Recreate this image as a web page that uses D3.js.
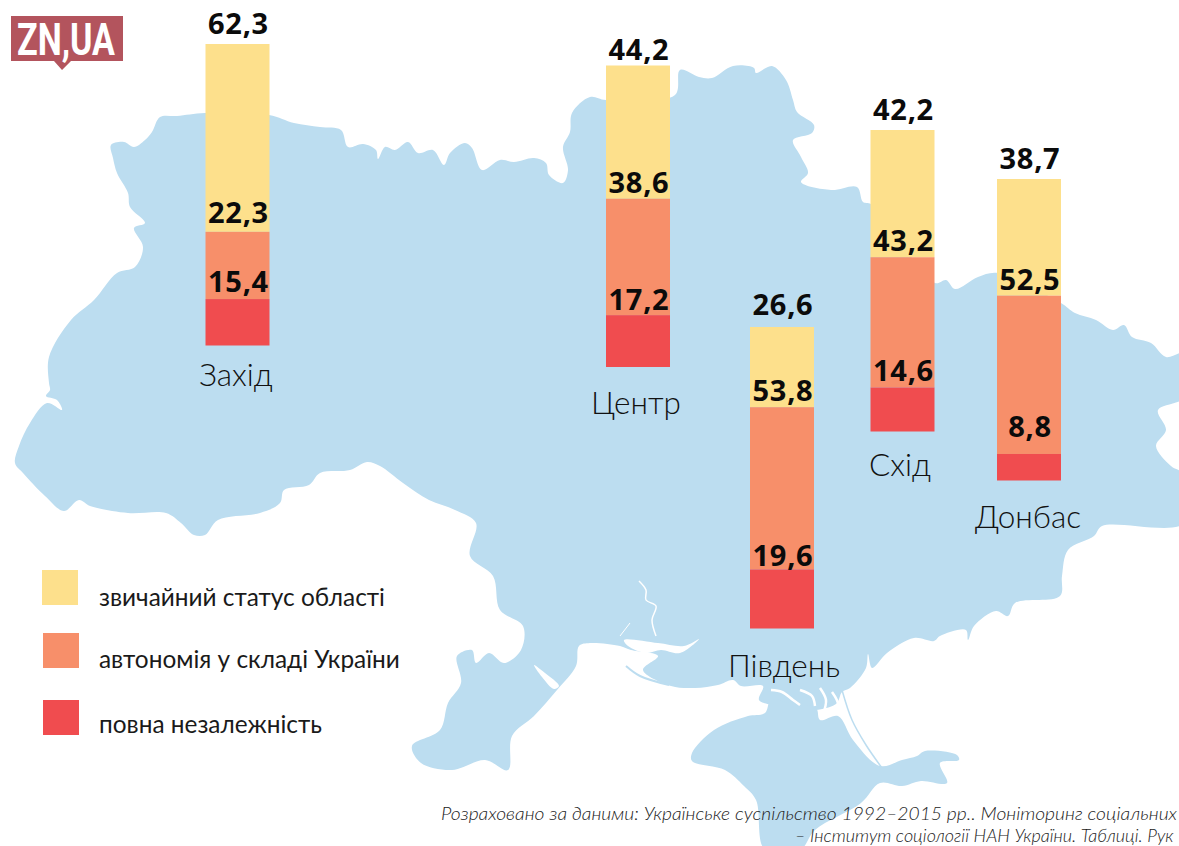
<!DOCTYPE html>
<html>
<head>
<meta charset="utf-8">
<script src="https://cdnjs.cloudflare.com/ajax/libs/d3/7.8.5/d3.min.js"></script>
<style>
  html, body { margin: 0; padding: 0; background: #fff; overflow: hidden; }
  svg { display: block; }
</style>
</head>
<body>
<div class="g-chart-container"></div>
<script>
// values
var regions = ["Захід", "Центр", "Південь", "Схід", "Донбас"];
var ordinaryStatus = [62.3, 44.2, 26.6, 42.2, 38.7];
var autonomy = [22.3, 38.6, 53.8, 43.2, 52.5];
var independence = [15.4, 17.2, 19.6, 14.6, 8.8];
var seriesNames = ["звичайний статус області", "автономія у складі України", "повна незалежність"];
var sourceLines = [
  "Розраховано за даними: Українське суспільство 1992–2015 рр.. Моніторинг соціальних",
  "– Інститут соціології НАН України. Таблиці. Рук"
];

// layout
var width = 1179;
var height = 846;
var colors = ["#fde08c", "#f78f6a", "#f04c4f"];
var mapColor = "#bcddf0";
var barWidth = 64;
var barLeft = [205.5, 606, 750, 870.5, 997];
var barBottom = [345.5, 367, 628.5, 431.5, 480.5];
var nameX = [236, 636, 784, 900, 1028];
var nameY = [386, 414, 677, 476, 528];
var legendX = [42, 43, 43];
var legendY = [570, 633, 700];
var legendTextY = [606, 668, 733];
// distance from a segment's top edge to the baseline of its label, per series then region
var labelGap = [
  [10, 6, 12, 10, 10],
  [9, 6, 6, 6, 6],
  [7, 5, 3, 6, 17]
];

// outline
var mainland = [[111,145],[124,142],[134,147],[145,140],[152,132],[160,117],[177,116],[205,113],[269,115],[294,123],[320,127],[341,130],[348,147],[363,144],[376,150],[378,159],[385,147],[395,150],[408,142],[418,153],[433,150],[444,165],[450,153],[465,143],[472,148],[482,170],[500,160],[514,162],[534,158],[546,163],[549,175],[563,183],[568,170],[563,147],[570,132],[572,113],[590,97],[606,100],[675,95],[680,70],[699,77],[712,78],[733,66],[754,68],[756,73],[772,66],[786,80],[793,100],[797,112],[814,125],[812,133],[793,140],[801,157],[808,173],[801,182],[831,190],[857,187],[863,202],[871,204],[935,283],[946,280],[955,289],[978,277],[998,273],[1061,303],[1075,313],[1096,320],[1113,330],[1124,325],[1132,337],[1151,343],[1166,357],[1185,353],[1185,397],[1158,410],[1166,430],[1156,446],[1171,466],[1185,475],[1185,523],[1102,526],[1094,536],[1068,550],[1062,576],[1060,596],[1015,603],[1008,616],[996,611],[974,626],[968,640],[966,630],[940,636],[934,641],[914,638],[887,653],[872,668],[868,654],[866,668],[850,688],[842,692],[836,704],[800,712],[771,712],[771,706],[759,700],[763,686],[741,686],[733,680],[718,685],[695,688],[671,686],[643,670],[658,656],[631,650],[620,646],[590,643],[579,646],[576,666],[557,690],[534,716],[512,736],[508,770],[485,760],[452,770],[421,763],[412,746],[440,730],[448,703],[461,683],[457,656],[472,650],[476,663],[489,653],[504,663],[521,650],[523,626],[500,610],[493,576],[470,556],[476,523],[455,510],[429,500],[403,483],[380,466],[367,462],[350,470],[320,473],[309,485],[284,490],[280,503],[260,513],[218,520],[205,535],[194,535],[181,523],[166,513],[128,513],[90,506],[79,500],[64,511],[45,496],[23,473],[15,463],[19,446],[30,423],[47,403],[62,410],[57,400],[46,396],[50,390],[49,383],[49,357],[71,320],[94,300],[117,273],[135,267],[143,247],[134,228],[145,223],[130,207],[128,193],[117,173],[113,158]];
var crimea = [[771,700],[793,704],[816,708],[820,720],[838,716],[853,740],[880,766],[902,760],[917,756],[925,751],[957,755],[959,760],[940,763],[947,783],[921,781],[902,786],[880,783],[861,803],[815,830],[800,850],[765,850],[756,800],[744,786],[725,770],[692,761],[692,753],[714,730],[748,716],[765,713]];
var estuary = [[624,640],[658,643],[684,646],[699,639],[680,653],[661,650],[646,653],[628,646]];
var dniester = [[534,665],[545,673],[559,686],[554,689],[542,677]];
var bugRiver = [[639,581],[646,590],[646,600],[656,606],[652,620],[656,636]];
var bugFork = [[620,636],[630,623]];
var kinburn = [[626,666],[640,676],[669,685]];
var arabat = [[842,690],[852,720],[866,745],[882,768]];
var sivashFlecks = [
  [[771,690],[782,692],[793,700],[800,705]],
  [[800,690],[812,696],[815,706]],
  [[820,688],[826,700],[823,714]],
  [[832,692],[838,705],[830,714]]
];

var svg = d3.select(".g-chart-container")
  .append("svg")
  .attr("width", width)
  .attr("height", height);

var outline = d3.line().curve(d3.curveCatmullRomClosed.alpha(0.5));
var openLine = d3.line().curve(d3.curveCatmullRom.alpha(0.5));

// map
var map = svg.append("g");
map.append("path").attr("d", outline(mainland)).style("fill", mapColor);
map.append("path").attr("d", outline(crimea)).style("fill", mapColor);
map.append("path").attr("d", outline(estuary)).style("fill", "#fff");
map.append("path").attr("d", outline(dniester)).style("fill", "#fff");
map.append("path").attr("d", openLine(bugRiver)).style("fill", "none").style("stroke", "#fff").style("stroke-width", 1.5);
map.append("path").attr("d", openLine(bugFork)).style("fill", "none").style("stroke", "#fff").style("stroke-width", 1);
map.append("path").attr("d", openLine(kinburn)).style("fill", "none").style("stroke", mapColor).style("stroke-width", 2);
map.append("path").attr("d", openLine(arabat)).style("fill", "none").style("stroke", mapColor).style("stroke-width", 1.5);
map.selectAll(".fleck")
  .data(sivashFlecks)
  .enter()
  .append("path")
  .attr("class", "fleck")
  .attr("d", function(d){ return openLine(d); })
  .style("fill", "none")
  .style("stroke", "#fff")
  .style("stroke-width", 2.5);

// logo
var logo = svg.append("g");
logo.append("path")
  .attr("d", "M11,16H123V61H71L62,70L54,61H11Z")
  .style("fill", "#b3545d");
logo.append("text")
  .attr("x", 17)
  .attr("y", 55)
  .attr("textLength", 98)
  .attr("lengthAdjust", "spacingAndGlyphs")
  .style("font-family", "Roboto")
  .style("font-weight", 700)
  .style("font-size", "45px")
  .style("fill", "#fff")
  .text("ZN,UA");

// scales
var h = d3.scaleLinear().domain([0, 100]).range([0, 301.5]);
var x = d3.scaleOrdinal().domain(regions).range(barLeft);
var bottom = d3.scaleOrdinal().domain(regions).range(barBottom);

var rows = regions.map(function(r, i){
  return { region: r, s0: ordinaryStatus[i], s1: autonomy[i], s2: independence[i] };
});
var stack = d3.stack().keys(["s0", "s1", "s2"]);
var layers = stack(rows);

function topY(d){
  return bottom(d.data.region) - h(100) + h(d[0]);
}

var layer = svg.selectAll(".layer")
  .data(layers)
  .enter()
  .append("g")
  .attr("class", "layer");

layer.selectAll("rect")
  .data(function(d){ return d; })
  .enter()
  .append("rect")
  .attr("x", function(d){ return x(d.data.region); })
  .attr("y", topY)
  .attr("width", barWidth)
  .attr("height", function(d){ return h(d[1]) - h(d[0]); })
  .style("fill", function(d){
    return colors[layers.findIndex(function(l){ return l.indexOf(d) > -1; })];
  });

// value labels sit on top of their own segment
layers.forEach(function(l, s){
  svg.selectAll(".v-" + l.key)
    .data(l)
    .enter()
    .append("text")
    .attr("class", "v-" + l.key)
    .attr("x", function(d){ return x(d.data.region) + barWidth / 2 + 1; })
    .attr("y", function(d, i){ return topY(d) - labelGap[s][i]; })
    .attr("text-anchor", "middle")
    .style("font-family", "Open Sans")
    .style("font-weight", 700)
    .style("font-size", "29px")
    .style("letter-spacing", "0.7px")
    .style("fill", "#0b0b0b")
    .text(function(d){ return (d[1] - d[0]).toFixed(1).replace(".", ","); });
});

// region names
svg.selectAll(".name")
  .data(regions)
  .enter()
  .append("text")
  .attr("class", "name")
  .attr("x", function(d, i){ return nameX[i]; })
  .attr("y", function(d, i){ return nameY[i]; })
  .attr("text-anchor", "middle")
  .style("font-family", "Lato")
  .style("font-weight", 300)
  .style("font-size", "31.5px")
  .style("fill", "#111")
  .text(function(d){ return d; });

// legend
var legend = svg.selectAll(".legend")
  .data(seriesNames)
  .enter()
  .append("g")
  .attr("class", "legend");
legend.append("rect")
  .attr("x", function(d, i){ return legendX[i]; })
  .attr("y", function(d, i){ return legendY[i]; })
  .attr("width", 36)
  .attr("height", 35)
  .style("fill", function(d, i){ return colors[i]; });
legend.append("text")
  .attr("x", 99)
  .attr("y", function(d, i){ return legendTextY[i]; })
  .style("font-family", "Lato")
  .style("font-size", "24.4px")
  .style("fill", "#1a1a1a")
  .text(function(d){ return d; });

// source
svg.selectAll(".source")
  .data(sourceLines)
  .enter()
  .append("text")
  .attr("class", "source")
  .attr("x", function(d, i){ return i ? 795 : 441; })
  .attr("y", function(d, i){ return i ? 842 : 820; })
  .style("font-family", "Lato")
  .style("font-style", "italic")
  .style("font-weight", 300)
  .style("font-size", "18px")
  .style("fill", "#222")
  .each(function(d, i){
    // only the first line is stretched out to the page edge
    if (!i) d3.select(this).attr("textLength", 736).attr("lengthAdjust", "spacingAndGlyphs");
  })
  .text(function(d){ return d; });
</script>
</body>
</html>
